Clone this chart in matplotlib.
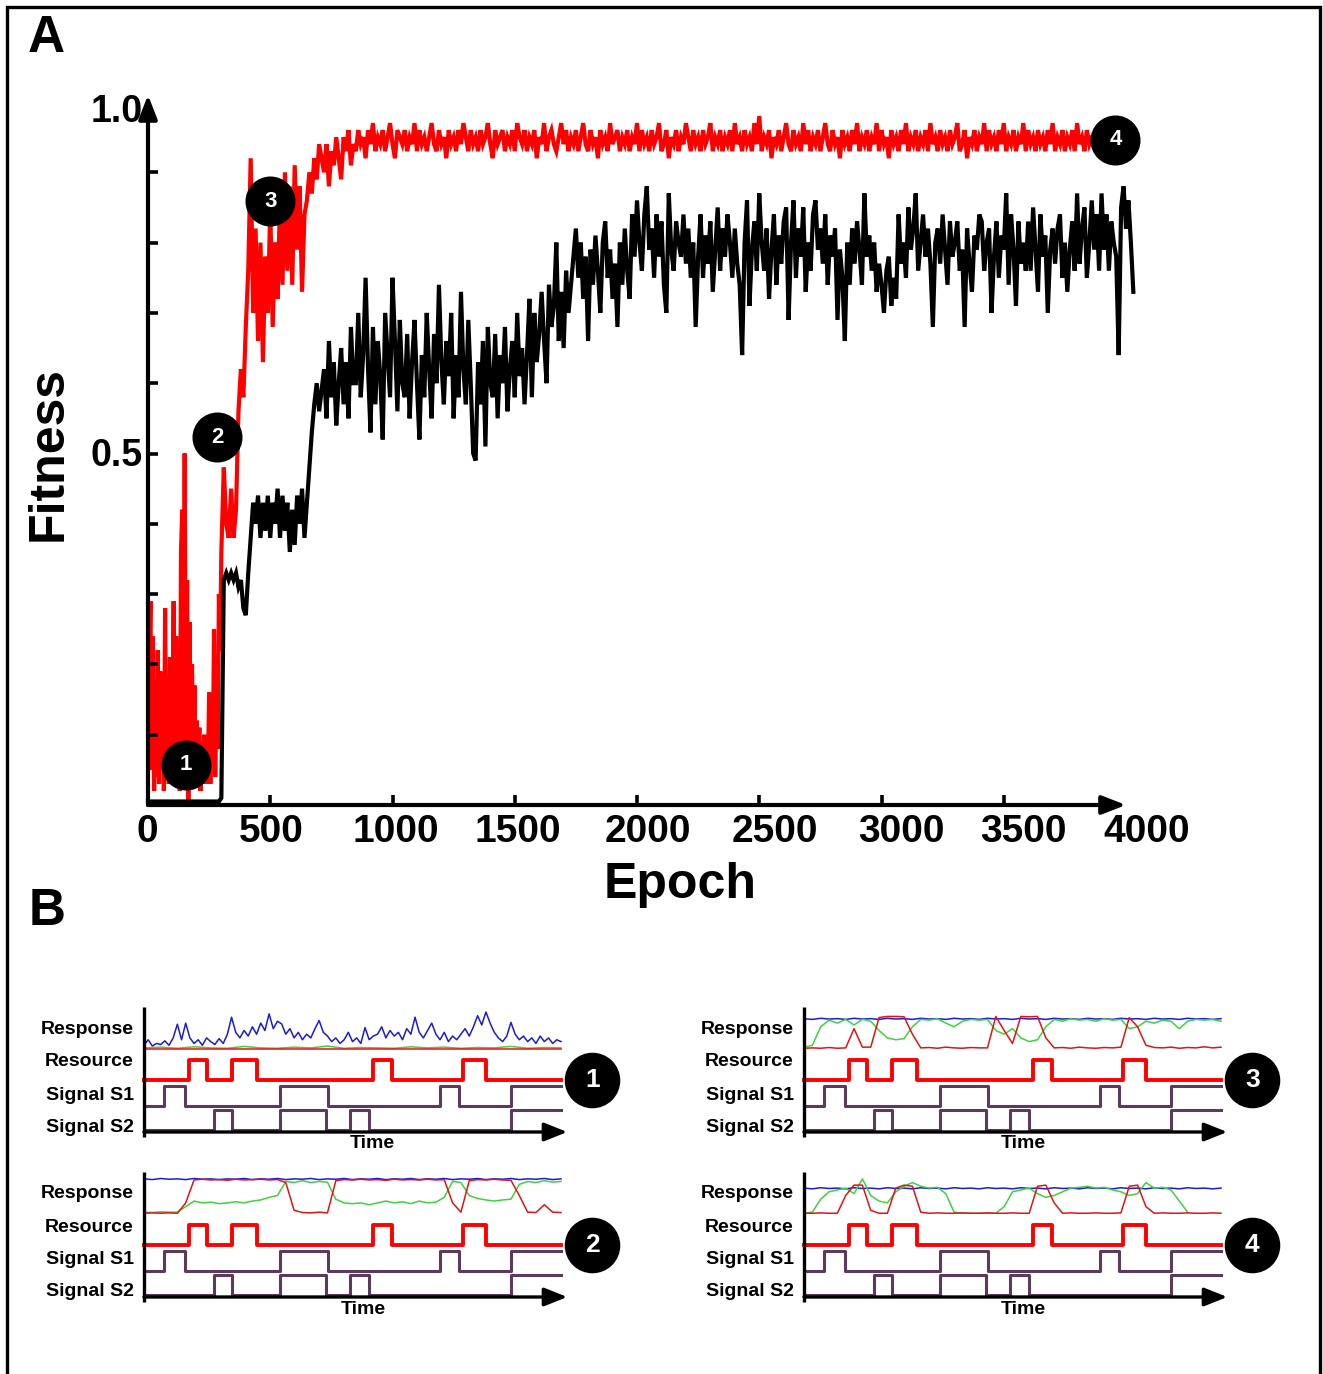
import numpy as np
import matplotlib
matplotlib.use("Agg")
import matplotlib.pyplot as plt
import matplotlib.transforms as mtransforms
from matplotlib.patches import Rectangle

plt.rcParams['font.family'] = ['Liberation Sans', 'DejaVu Sans']

W, H = 1323, 1374

# ------------------------------------------------------------------
# Panel A data (fitness vs epoch)
# ------------------------------------------------------------------
black_early = [0.005, 0.005, 0.005, 0.005, 0.005, 0.005, 0.005, 0.005, 0.005, 0.005,
               0.005, 0.005, 0.005, 0.005, 0.005, 0.005, 0.005, 0.005, 0.005, 0.005,
               0.005, 0.005, 0.005, 0.005, 0.005, 0.005, 0.005, 0.005, 0.005, 0.005,
               0.01, 0.32, 0.33, 0.32, 0.33, 0.32, 0.33, 0.31, 0.32, 0.28,
               0.27, 0.33, 0.38, 0.43, 0.40, 0.44, 0.38, 0.43, 0.39, 0.44,
               0.38, 0.43, 0.40, 0.45, 0.38, 0.44, 0.39, 0.43, 0.36, 0.42,
               0.37, 0.44, 0.40, 0.45, 0.38, 0.43, 0.48, 0.53, 0.57, 0.60,
               0.56]                                  # epochs 0..700, step 10
# epochs 720.., step 10, in hundredths
black_late_pct = [
    62, 55, 66, 58, 63, 54, 60, 65, 57, 63, 55, 68, 60,
    60, 70, 58, 64, 75, 62, 53, 68, 57, 66, 61, 52, 70, 64, 58, 75, 66,
    56, 69, 60, 58, 67, 55, 63, 69, 60, 52, 64, 58, 70, 62, 55, 67, 60,
    74, 63, 57, 66, 61, 70, 55, 64, 58, 73, 62, 57, 69, 60, 50,
    49, 63, 57, 66, 51, 68, 60, 58, 67, 55, 64, 60, 68, 56, 62, 66, 58,
    70, 61, 65, 57,
    64, 72, 58, 70, 63, 67, 73, 66, 60, 74, 68, 71, 80, 66, 73, 65, 76,
    70, 74, 78,
    82, 75, 80, 72, 78, 66, 79, 74, 81, 76, 70, 80, 83, 75, 79, 72, 77,
    68, 80, 74, 82, 76, 72, 84, 78, 86,
    80, 76, 84, 88, 79, 82, 75, 84, 78, 83,
    74, 70, 87, 79, 76, 83, 80, 78, 84, 77,
    82, 75, 80, 68, 78, 84, 75, 81, 77, 83,
    73, 79, 85, 76, 82, 78, 84, 80, 75, 82,
    77, 74, 64, 80, 86, 71, 79, 83, 76, 87,
    80, 76, 82, 72, 79, 84, 74, 81, 77, 83,
    85, 69, 80, 86, 75, 82, 78, 85, 73, 80,
    76, 84, 86, 79, 82, 77, 84, 74, 81, 78,
    82, 69, 79, 75, 66, 80, 74, 82, 77, 83,
    79, 74, 87, 78, 81, 76, 80, 73, 77, 74,
    70, 76, 78, 71, 75, 72, 84, 77, 80, 75,
    85, 79, 82, 87, 76, 80, 84, 78, 82, 77,
    68, 80, 82, 77, 84, 79, 74, 83, 78, 80,
    83, 76, 79, 68, 82, 77, 73, 81, 79, 84,
    83, 76, 80, 82, 70, 78, 83, 75, 81, 79,
    87, 74, 84, 79, 71, 83, 77, 80, 76, 83,
    76, 85, 79, 73, 84, 78, 81, 70, 79, 82,
    77, 82, 84, 75, 80, 73, 79, 83, 76, 87,
    77, 82, 85, 75, 80, 86, 79, 84, 76, 87,
    79, 84, 76, 83, 80, 78, 64, 85, 88, 82,
    86, 80, 73]

red_seg1 = [0.04, 0.20, 0.29, 0.05, 0.24, 0.02, 0.15, 0.04, 0.22, 0.03,
            0.19, 0.06, 0.12, 0.02, 0.28, 0.04, 0.18, 0.03, 0.21, 0.06,
            0.14, 0.29, 0.03, 0.24, 0.05, 0.15, 0.02, 0.36, 0.42, 0.05,
            0.50, 0.08, 0.32, 0.00, 0.26, 0.04, 0.20, 0.06, 0.17, 0.03,
            0.12, 0.05, 0.11, 0.02, 0.09, 0.04, 0.10, 0.03, 0.08, 0.05,
            0.16, 0.03, 0.13, 0.06, 0.25, 0.04, 0.19, 0.08, 0.30, 0.22]  # 0..295 step 5
red_seg2 = [0.36, 0.48, 0.40, 0.38, 0.45, 0.38, 0.42, 0.56, 0.62, 0.58,
            0.68, 0.76, 0.92, 0.70, 0.82, 0.66, 0.80, 0.63, 0.78, 0.70,
            0.85, 0.68, 0.80, 0.72, 0.86, 0.74, 0.90, 0.76, 0.88, 0.74,
            0.91, 0.79, 0.88, 0.73, 0.84, 0.86, 0.90, 0.87, 0.92, 0.89,
            0.94]                                    # 300..700 step 10
# epochs 720.., step 10, in hundredths
red_late_pct = [
    90, 94, 88, 93, 91, 95, 92, 89, 95, 93, 96, 91, 94,
    93, 96, 94, 95, 92, 96, 94, 97, 93, 95,
    94, 96, 93, 95, 97, 94, 92, 96, 95, 94,
    96, 93, 95, 94, 97, 93, 96, 94, 95, 93,
    95, 97, 94, 93, 96, 94, 95, 92, 96, 94,
    95, 93, 96, 94, 97, 95, 93, 96, 94, 95,
    93, 96, 94, 95, 97, 94, 92, 96, 94, 95,
    96, 93, 95, 94, 96, 93, 97, 95, 94, 96,
    93, 95, 94, 96, 92, 95, 94, 97, 93, 95,
    96, 94, 93, 95, 97, 94, 96, 93, 95, 94,
    96, 93, 95, 97, 94, 93, 96, 94, 95, 92,
    96, 94, 95, 93, 97, 94, 95, 96, 93, 95,
    94, 96, 93, 95, 94, 97, 93, 96, 94, 95,
    93, 96, 94, 95, 97, 93, 94, 96, 92, 95,
    94, 96, 93, 95, 94, 97, 95, 93, 96, 94,
    95, 93, 96, 94, 95, 97, 93, 95, 94, 96,
    93, 95, 94, 96, 93, 97, 94, 95, 93, 96,
    94, 95, 93, 97, 94, 98, 93, 95, 94, 96,
    92, 95, 94, 96, 93, 95, 97, 94, 93, 96,
    94, 95, 93, 97, 94, 96, 93, 95, 94, 96,
    93, 95, 97, 94, 93, 96, 94, 95, 92, 96,
    94, 95, 93, 96, 94, 97, 93, 95, 94, 96,
    93, 95, 94, 97, 93, 96, 94, 95, 92, 96,
    94, 95, 93, 96, 94, 97, 93, 95, 94, 96,
    93, 95, 94, 96, 93, 97, 94, 95, 93, 96,
    94, 95, 93, 96, 94, 95, 97, 93, 94, 96,
    92, 95, 94, 96, 93, 95, 94, 97, 93, 96,
    94, 95, 93, 96, 94, 97, 93, 95, 94, 96,
    93, 95, 94, 97, 93, 96, 94, 95, 93, 96,
    94, 95, 93, 96, 94, 97, 93, 95, 94, 96,
    93, 95, 94, 96, 93, 97, 94, 95, 93, 96,
    94, 95, 95]

x_ticks = [0, 500, 1000, 1500, 2000, 2500, 3000, 3500, 4000]
x_tick_labels = ['0', '500', '1000', '1500', '2000', '2500', '3000', '3500', '4000']
y_minor_ticks = [0.1, 0.2, 0.3, 0.4, 0.5, 0.6, 0.7, 0.8, 0.9]
y_tick_labels = {1.0: '1.0', 0.5: '0.5'}

stage_labels = ['1', '2', '3', '4']
stage_epoch = [155, 282, 500, 3957]
stage_fit = [0.057, 0.523, 0.859, 0.946]

# ------------------------------------------------------------------
# Panel B data (signals common to all four sub-panels; time in 0..100)
# ------------------------------------------------------------------
resource_edges = [10.9, 15.2, 21.2, 27.1, 55.0, 59.4, 76.6, 82.0]
s1_edges = [4.9, 9.8, 32.6, 44.1, 70.9, 75.5, 88.0]
s2_edges = [16.7, 21.1, 32.6, 43.7, 49.5, 54.0, 88.0]

# responses (0..1 within response band)
p1_blue = [0.10, 0.25, 0.08, 0.15, 0.12, 0.22, 0.10, 0.30, 0.67, 0.25,
           0.70, 0.30, 0.15, 0.25, 0.10, 0.30, 0.20, 0.12, 0.28, 0.15,
           0.40, 0.86, 0.45, 0.30, 0.50, 0.35, 0.60, 0.40, 0.70, 0.50,
           0.95, 0.55, 0.75, 0.68, 0.40, 0.55, 0.30, 0.45, 0.25, 0.40,
           0.30, 0.55, 0.77, 0.45, 0.35, 0.20, 0.30, 0.15, 0.25, 0.45,
           0.20, 0.30, 0.15, 0.58, 0.25, 0.35, 0.40, 0.60, 0.30, 0.50,
           0.35, 0.45, 0.25, 0.55, 0.40, 0.86, 0.45, 0.30, 0.50, 0.70,
           0.40, 0.25, 0.45, 0.20, 0.35, 0.25, 0.40, 0.55, 0.35, 0.60,
           0.90, 0.65, 1.00, 0.70, 0.45, 0.30, 0.20, 0.35, 0.72, 0.40,
           0.25, 0.35, 0.20, 0.30, 0.15, 0.35, 0.20, 0.30, 0.15, 0.25,
           0.20]
p1_green = [0.03, 0.05, 0.02, 0.06, 0.03, 0.02, 0.07, 0.03, 0.02, 0.05,
            0.03, 0.08, 0.02, 0.04, 0.03, 0.02, 0.06, 0.03, 0.05, 0.02,
            0.04, 0.03, 0.07, 0.02, 0.04, 0.03]
p1_red = [0.01, 0.01]

p2_blue = [0.95, 0.93, 0.96, 0.94, 0.95, 0.93, 0.96, 0.94, 0.95, 0.93,
           0.95, 0.94, 0.96, 0.93, 0.95, 0.94, 0.96, 0.93, 0.95, 0.94,
           0.96, 0.93, 0.95, 0.94, 0.96, 0.93, 0.95, 0.94, 0.96, 0.93,
           0.95, 0.94, 0.96, 0.93, 0.95, 0.94, 0.96, 0.93, 0.95, 0.94,
           0.96, 0.93, 0.95, 0.94, 0.96, 0.93, 0.95, 0.94, 0.96, 0.93,
           0.95]
p2_red = [0.02, 0.03, 0.02, 0.03, 0.02, 0.30, 0.92, 0.94, 0.92, 0.93,
          0.91, 0.94, 0.92, 0.93, 0.94, 0.92, 0.93, 0.85, 0.10, 0.04,
          0.03, 0.05, 0.03, 0.90, 0.93, 0.92, 0.94, 0.92, 0.93, 0.91,
          0.94, 0.92, 0.93, 0.92, 0.94, 0.92, 0.93, 0.30, 0.05, 0.90,
          0.93, 0.92, 0.94, 0.92, 0.91, 0.50, 0.05, 0.04, 0.25, 0.05,
          0.04]
p2_green = [0.05, 0.04, 0.06, 0.05, 0.05, 0.20, 0.35, 0.30, 0.32, 0.28,
            0.30, 0.33, 0.30, 0.35, 0.38, 0.45, 0.50, 0.88, 0.85, 0.90,
            0.85, 0.88, 0.86, 0.40, 0.30, 0.28, 0.30, 0.25, 0.30, 0.35,
            0.30, 0.33, 0.28, 0.35, 0.30, 0.32, 0.45, 0.88, 0.85, 0.50,
            0.42, 0.38, 0.35, 0.38, 0.40, 0.80, 0.88, 0.85, 0.90, 0.86,
            0.88]

p3_blue = [0.82, 0.80, 0.83, 0.81, 0.82, 0.80, 0.83, 0.81, 0.82, 0.80,
           0.83, 0.81, 0.82, 0.80, 0.83, 0.81, 0.82, 0.80, 0.83, 0.81,
           0.82, 0.80, 0.83, 0.81, 0.82, 0.80, 0.83, 0.81, 0.82, 0.80,
           0.83, 0.81, 0.82, 0.80, 0.83, 0.81, 0.82, 0.80, 0.83, 0.81,
           0.82, 0.80, 0.83, 0.81, 0.82, 0.80, 0.83, 0.81, 0.82, 0.80,
           0.82]
p3_red = [0.02, 0.03, 0.02, 0.04, 0.02, 0.03, 0.55, 0.05, 0.05, 0.85,
          0.88, 0.88, 0.87, 0.40, 0.03, 0.04, 0.02, 0.05, 0.03, 0.02,
          0.04, 0.03, 0.03, 0.88, 0.50, 0.15, 0.88, 0.87, 0.88, 0.30,
          0.03, 0.04, 0.02, 0.05, 0.03, 0.02, 0.04, 0.03, 0.05, 0.85,
          0.60, 0.10, 0.04, 0.03, 0.05, 0.02, 0.04, 0.03, 0.06, 0.03,
          0.05]
p3_green = [0.05, 0.10, 0.60, 0.78, 0.70, 0.80, 0.65, 0.80, 0.75, 0.50,
            0.30, 0.25, 0.28, 0.60, 0.80, 0.78, 0.82, 0.70, 0.60, 0.75,
            0.80, 0.78, 0.80, 0.50, 0.40, 0.55, 0.30, 0.20, 0.25, 0.60,
            0.80, 0.75, 0.82, 0.78, 0.80, 0.75, 0.82, 0.78, 0.80, 0.55,
            0.60, 0.75, 0.70, 0.78, 0.75, 0.55, 0.75, 0.80, 0.78, 0.80,
            0.75]

p4_blue = [0.70, 0.68, 0.71, 0.69, 0.70, 0.68, 0.71, 0.69, 0.70, 0.68,
           0.71, 0.69, 0.70, 0.68, 0.71, 0.69, 0.70, 0.68, 0.71, 0.69,
           0.70, 0.68, 0.71, 0.69, 0.70, 0.68, 0.71, 0.69, 0.70, 0.68,
           0.71, 0.69, 0.70, 0.68, 0.71, 0.69, 0.70, 0.68, 0.71, 0.69,
           0.70, 0.68, 0.71, 0.69, 0.70, 0.68, 0.71, 0.69, 0.70, 0.68,
           0.70]
p4_red = [0.02, 0.02, 0.03, 0.02, 0.02, 0.50, 0.78, 0.78, 0.10, 0.02,
          0.02, 0.70, 0.78, 0.75, 0.05, 0.02, 0.03, 0.02, 0.02, 0.03,
          0.02, 0.02, 0.03, 0.02, 0.02, 0.03, 0.02, 0.02, 0.75, 0.78,
          0.30, 0.02, 0.03, 0.02, 0.02, 0.03, 0.02, 0.02, 0.03, 0.75,
          0.78, 0.20, 0.02, 0.03, 0.02, 0.02, 0.03, 0.02, 0.02, 0.03,
          0.02]
p4_green = [0.02, 0.05, 0.40, 0.60, 0.65, 0.70, 0.55, 0.95, 0.50, 0.35,
            0.30, 0.60, 0.75, 0.85, 0.75, 0.70, 0.72, 0.55, 0.05, 0.02,
            0.02, 0.02, 0.02, 0.02, 0.20, 0.60, 0.65, 0.70, 0.55, 0.45,
            0.50, 0.60, 0.70, 0.72, 0.75, 0.70, 0.72, 0.65, 0.60, 0.50,
            0.55, 0.85, 0.70, 0.72, 0.65, 0.35, 0.05]

panel_ids = ['1', '2', '3', '4']
responses = {
    '1': (p1_blue, p1_green, p1_red),
    '2': (p2_blue, p2_green, p2_red),
    '3': (p3_blue, p3_green, p3_red),
    '4': (p4_blue, p4_green, p4_red),
}
row_labels = ['Response', 'Resource', 'Signal S1', 'Signal S2']

# ------------------------------------------------------------------
# helpers
# ------------------------------------------------------------------
def fig_rect(left_px, top_px, width_px, height_px):
    return [left_px / W, 1 - (top_px + height_px) / H, width_px / W, height_px / H]


def step_wave(edges, t_end=100.0):
    t, v = [0.0], [0.0]
    level = 0.0
    for e in edges:
        t += [e, e]
        v += [level, 1.0 - level]
        level = 1.0 - level
    t.append(t_end)
    v.append(level)
    return np.array(t), np.array(v)


fig = plt.figure(figsize=(W / 100, H / 100), dpi=100)

# outer frame
fig.add_artist(Rectangle((7 / W, -10 / H), (1320 - 7) / W, (1374 - 7 + 10) / H,
                         transform=fig.transFigure, fill=False, lw=2.4,
                         edgecolor='black'))

# ------------------------------------------------------------------
# Panel A
# ------------------------------------------------------------------
axA = fig.add_axes(fig_rect(148, 102, 978, 703))
axA.set_xlim(0, 4000)
axA.set_ylim(0, 1.0)
for s in axA.spines.values():
    s.set_visible(False)

black_late = np.array(black_late_pct) / 100.0
red_late = np.array(red_late_pct) / 100.0
ep_b_early = 10 * np.arange(len(black_early))
ep_b_late = 720 + 10 * np.arange(len(black_late))
ep_r1 = 5 * np.arange(len(red_seg1))
ep_r2 = 300 + 10 * np.arange(len(red_seg2))
ep_r3 = 720 + 10 * np.arange(len(red_late))

red_ep = np.concatenate([ep_r1, ep_r2, ep_r3])
red_val = np.concatenate([red_seg1, red_seg2, red_late])
blk_ep = np.concatenate([ep_b_early, ep_b_late])
blk_val = np.concatenate([black_early, black_late])

axA.plot(red_ep, red_val, color='#ff0000', lw=3.0, clip_on=False, zorder=2,
         solid_joinstyle='miter')
axA.plot(blk_ep, blk_val, color='black', lw=3.0, clip_on=False, zorder=3,
         solid_joinstyle='miter')

# axes with arrows
arrow_kw = dict(arrowstyle='-|>,head_length=0.9,head_width=0.35', color='black',
                lw=3.0, shrinkA=0, shrinkB=0, mutation_scale=16)
axA.annotate('', xy=(4000, 0), xytext=(0, 0), xycoords='data',
             arrowprops=arrow_kw, annotation_clip=False, zorder=6)
axA.annotate('', xy=(0, 1.01), xytext=(0, 0), xycoords='data',
             arrowprops=arrow_kw, annotation_clip=False, zorder=6)

# ticks (inside)
for v in y_minor_ticks:
    axA.plot([0, 40], [v, v], color='black', lw=2.6, solid_capstyle='butt',
             clip_on=False, zorder=6)
for v in x_ticks[1:-1]:
    axA.plot([v, v], [0, 0.014], color='black', lw=2.6, solid_capstyle='butt',
             clip_on=False, zorder=6)
axA.set_xticks([])
axA.set_yticks([])

x_label_shift_px = [-1, 1, 3, 3, 11, 16, 20, 20, 21]
for v, lab, dx in zip(x_ticks, x_tick_labels, x_label_shift_px):
    tr = mtransforms.offset_copy(axA.transData, fig=fig, x=dx, y=-37, units='dots')
    axA.text(v, 0, lab, transform=tr, ha='center', va='baseline',
             fontsize=28, fontweight='bold')
for v, dy in [(1.0, -20), (0.5, -12)]:
    tr = mtransforms.offset_copy(axA.transData, fig=fig, x=-5, y=dy, units='dots')
    axA.text(0, v, y_tick_labels[v], transform=tr, ha='right', va='baseline',
             fontsize=27, fontweight='bold')

for lab, xe, yf in zip(stage_labels, stage_epoch, stage_fit):
    axA.plot(xe, yf, 'o', ms=35, color='black', clip_on=False, zorder=8)
    axA.text(xe, yf, lab, ha='center', va='center', color='white',
             fontsize=16, fontweight='bold', zorder=9)

fig.text(680 / W, 1 - 898 / H, 'Epoch', ha='center', va='baseline',
         fontsize=36, fontweight='bold')
fig.text(49 / W, 1 - 454 / H, 'Fitness', ha='center', va='center',
         rotation=90, fontsize=36, fontweight='bold')
fig.text(28 / W, 1 - 52 / H, 'A', ha='left', va='baseline',
         fontsize=37, fontweight='bold')
fig.text(29 / W, 1 - 925 / H, 'B', ha='left', va='baseline',
         fontsize=37, fontweight='bold')

# ------------------------------------------------------------------
# Panel B
# ------------------------------------------------------------------
RESP_BASE, RESP_SCALE = 83, 37
RES_BASE, S1_BASE, S2_BASE, PULSE = 52, 26, 2, 20
purple = '#5c3a5c'
panel_layout = {'1': (144, 1132, 54.7), '3': (804, 1132, 52.5),
                '2': (144, 1297, 52.5), '4': (804, 1297, 52.5)}

for pid in panel_ids:
    x0, yax, time_x = panel_layout[pid]
    ax = fig.add_axes(fig_rect(x0, yax - 124, 417, 124))
    ax.set_xlim(0, 100)
    ax.set_ylim(0, 124)
    ax.axis('off')

    blue, green, red = responses[pid]
    for arr, col in [(blue, '#1c1ccf'), (green, '#3fd23f'), (red, '#dd1515')]:
        if pid == '4' and arr is green:
            tt = 2.0 * np.arange(len(arr))
        else:
            tt = np.linspace(0, 100, len(arr))
        ax.plot(tt, RESP_BASE + RESP_SCALE * np.array(arr), color=col, lw=1.1,
                clip_on=False)

    t, v = step_wave(resource_edges)
    ax.plot(t, RES_BASE + PULSE * v, color='#ff0000', lw=2.8, clip_on=False)
    t, v = step_wave(s1_edges)
    ax.plot(t, S1_BASE + PULSE * v, color=purple, lw=2.2, clip_on=False)
    t, v = step_wave(s2_edges)
    ax.plot(t, S2_BASE + PULSE * v, color=purple, lw=2.2, clip_on=False)

    # axes
    ax.plot([0, 0], [-5, 125], color='black', lw=2.4, clip_on=False,
            solid_capstyle='butt')
    ax.annotate('', xy=(101.5, 0), xytext=(0, 0),
                arrowprops=dict(arrowstyle='-|>,head_length=1.0,head_width=0.4',
                                color='black', lw=2.4, shrinkA=0, shrinkB=0,
                                mutation_scale=14),
                annotation_clip=False)

    for lab, yc in zip(row_labels, [103, 70, 37, 5]):
        ax.text(-2.4, yc, lab, ha='right', va='center', fontsize=14,
                fontweight='bold')
    ax.text(time_x, -12, 'Time', ha='center', va='center', fontsize=14,
            fontweight='bold')

    ax.plot(107.5, 52, 'o', ms=39, color='black', clip_on=False)
    ax.text(107.5, 52, pid, ha='center', va='center', color='white',
            fontsize=19, fontweight='bold')

fig.savefig('out.png', dpi=100)
